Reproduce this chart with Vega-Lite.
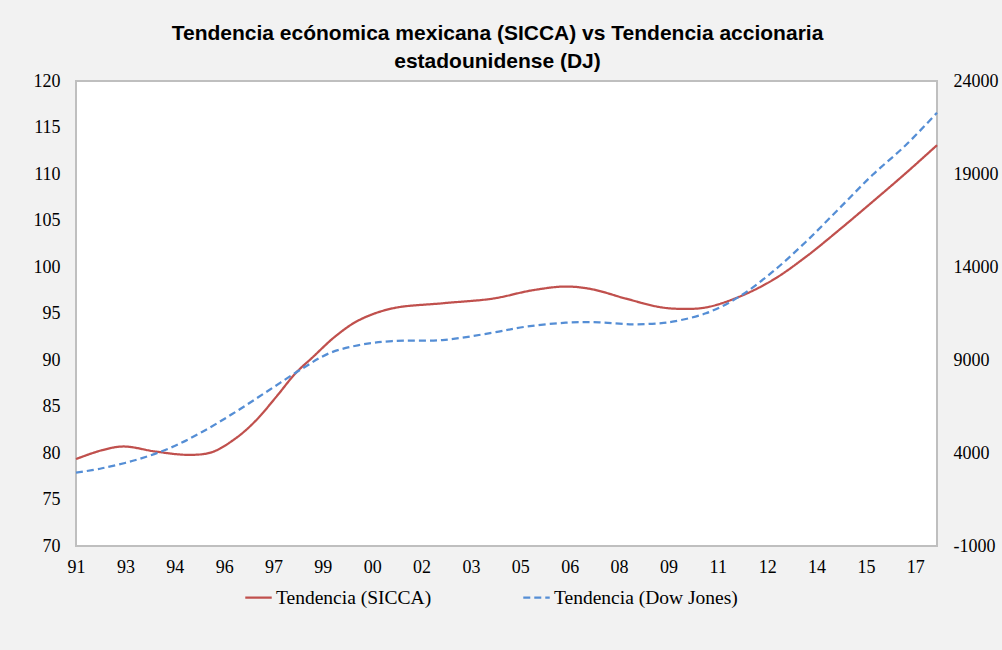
{
  "$schema": "https://vega.github.io/schema/vega-lite/v6.json",
  "autosize": {"type": "none"},
  "width": 861,
  "height": 465,
  "padding": {"left": 76, "top": 81, "right": 65, "bottom": 104},
  "background": "#F2F2F2",
  "config": {
    "view": {"fill": "#FFFFFF", "stroke": "#BFBFBF", "strokeWidth": 2},
    "axis": {"labelFont": "Liberation Serif", "labelFontSize": 18, "labelColor": "#000000", "grid": false, "ticks": false, "domain": false, "title": null}
  },
  "title": {
    "text": ["Tendencia ecónomica mexicana (SICCA) vs Tendencia accionaria", "estadounidense (DJ)"],
    "font": "Liberation Sans",
    "fontSize": 21,
    "fontWeight": "bold",
    "color": "#000000",
    "lineHeight": 28,
    "anchor": "middle",
    "dx": -9,
    "offset": 0
  },
  "datasets": {
    "sicca": [
      {"fecha": "1991-10-01", "serie": "Tendencia (SICCA)", "valor": 79.35},
      {"fecha": "1992-07-15", "serie": "Tendencia (SICCA)", "valor": 80.3},
      {"fecha": "1993-03-15", "serie": "Tendencia (SICCA)", "valor": 80.7},
      {"fecha": "1994-03-05", "serie": "Tendencia (SICCA)", "valor": 80.15},
      {"fecha": "1995-03-10", "serie": "Tendencia (SICCA)", "valor": 79.8},
      {"fecha": "1995-11-20", "serie": "Tendencia (SICCA)", "valor": 80.1},
      {"fecha": "1996-08-10", "serie": "Tendencia (SICCA)", "valor": 81.6},
      {"fecha": "1997-03-20", "serie": "Tendencia (SICCA)", "valor": 83.5},
      {"fecha": "1997-11-01", "serie": "Tendencia (SICCA)", "valor": 86.05},
      {"fecha": "1998-06-05", "serie": "Tendencia (SICCA)", "valor": 88.6},
      {"fecha": "1998-12-10", "serie": "Tendencia (SICCA)", "valor": 90.3},
      {"fecha": "1999-08-25", "serie": "Tendencia (SICCA)", "valor": 92.6},
      {"fecha": "2000-05-10", "serie": "Tendencia (SICCA)", "valor": 94.3},
      {"fecha": "2001-05-12", "serie": "Tendencia (SICCA)", "valor": 95.55},
      {"fecha": "2002-11-20", "serie": "Tendencia (SICCA)", "valor": 96.1},
      {"fecha": "2004-05-28", "serie": "Tendencia (SICCA)", "valor": 96.6},
      {"fecha": "2005-08-15", "serie": "Tendencia (SICCA)", "valor": 97.5},
      {"fecha": "2006-08-18", "serie": "Tendencia (SICCA)", "valor": 97.9},
      {"fecha": "2007-06-10", "serie": "Tendencia (SICCA)", "valor": 97.6},
      {"fecha": "2008-06-15", "serie": "Tendencia (SICCA)", "valor": 96.6},
      {"fecha": "2009-06-20", "serie": "Tendencia (SICCA)", "valor": 95.7},
      {"fecha": "2010-02-01", "serie": "Tendencia (SICCA)", "valor": 95.5},
      {"fecha": "2010-11-20", "serie": "Tendencia (SICCA)", "valor": 95.65},
      {"fecha": "2011-11-25", "serie": "Tendencia (SICCA)", "valor": 96.8},
      {"fecha": "2012-12-01", "serie": "Tendencia (SICCA)", "valor": 98.6},
      {"fecha": "2013-12-05", "serie": "Tendencia (SICCA)", "valor": 101.1},
      {"fecha": "2014-12-10", "serie": "Tendencia (SICCA)", "valor": 104.0},
      {"fecha": "2015-12-12", "serie": "Tendencia (SICCA)", "valor": 107.0},
      {"fecha": "2016-12-18", "serie": "Tendencia (SICCA)", "valor": 110.1},
      {"fecha": "2017-11-28", "serie": "Tendencia (SICCA)", "valor": 113.1}
    ],
    "dj": [
      {"fecha": "1991-10-01", "serie": "Tendencia (Dow Jones)", "valor": 2940},
      {"fecha": "1992-07-15", "serie": "Tendencia (Dow Jones)", "valor": 3180},
      {"fecha": "1993-07-25", "serie": "Tendencia (Dow Jones)", "valor": 3623},
      {"fecha": "1994-08-01", "serie": "Tendencia (Dow Jones)", "valor": 4252},
      {"fecha": "1995-08-05", "serie": "Tendencia (Dow Jones)", "valor": 5145},
      {"fecha": "1996-08-10", "serie": "Tendencia (Dow Jones)", "valor": 6220},
      {"fecha": "1997-08-15", "serie": "Tendencia (Dow Jones)", "valor": 7387},
      {"fecha": "1998-08-20", "serie": "Tendencia (Dow Jones)", "valor": 8553},
      {"fecha": "1999-06-10", "serie": "Tendencia (Dow Jones)", "valor": 9360},
      {"fecha": "2000-05-10", "serie": "Tendencia (Dow Jones)", "valor": 9806},
      {"fecha": "2001-05-12", "serie": "Tendencia (Dow Jones)", "valor": 10021},
      {"fecha": "2002-11-20", "serie": "Tendencia (Dow Jones)", "valor": 10075},
      {"fecha": "2004-05-28", "serie": "Tendencia (Dow Jones)", "valor": 10467},
      {"fecha": "2005-06-01", "serie": "Tendencia (Dow Jones)", "valor": 10790},
      {"fecha": "2006-08-18", "serie": "Tendencia (Dow Jones)", "valor": 11005},
      {"fecha": "2007-08-25", "serie": "Tendencia (Dow Jones)", "valor": 11026},
      {"fecha": "2008-08-28", "serie": "Tendencia (Dow Jones)", "valor": 10918},
      {"fecha": "2009-06-20", "serie": "Tendencia (Dow Jones)", "valor": 10972},
      {"fecha": "2009-11-15", "serie": "Tendencia (Dow Jones)", "valor": 11060},
      {"fecha": "2010-11-20", "serie": "Tendencia (Dow Jones)", "valor": 11510},
      {"fecha": "2011-11-25", "serie": "Tendencia (Dow Jones)", "valor": 12403},
      {"fecha": "2012-12-01", "serie": "Tendencia (Dow Jones)", "valor": 13747},
      {"fecha": "2013-12-05", "serie": "Tendencia (Dow Jones)", "valor": 15360},
      {"fecha": "2014-12-10", "serie": "Tendencia (Dow Jones)", "valor": 17153},
      {"fecha": "2015-12-12", "serie": "Tendencia (Dow Jones)", "valor": 18945},
      {"fecha": "2016-12-18", "serie": "Tendencia (Dow Jones)", "valor": 20557},
      {"fecha": "2017-11-28", "serie": "Tendencia (Dow Jones)", "valor": 22294}
    ]
  },
  "encoding": {
    "x": {
      "field": "fecha",
      "type": "temporal",
      "scale": {"type": "utc", "domain": [{"year": 1991, "month": 10, "date": 1, "utc": true}, {"year": 2017, "month": 11, "date": 28, "utc": true}]},
      "axis": {
        "format": "%y",
        "labelPadding": 12,
        "labelFlush": false,
        "labelOverlap": false,
        "values": [
          {"year": 1991, "month": 10, "date": 1, "utc": true},
          {"year": 1993, "month": 4, "date": 1, "utc": true},
          {"year": 1994, "month": 10, "date": 1, "utc": true},
          {"year": 1996, "month": 4, "date": 1, "utc": true},
          {"year": 1997, "month": 10, "date": 1, "utc": true},
          {"year": 1999, "month": 4, "date": 1, "utc": true},
          {"year": 2000, "month": 10, "date": 1, "utc": true},
          {"year": 2002, "month": 4, "date": 1, "utc": true},
          {"year": 2003, "month": 10, "date": 1, "utc": true},
          {"year": 2005, "month": 4, "date": 1, "utc": true},
          {"year": 2006, "month": 10, "date": 1, "utc": true},
          {"year": 2008, "month": 4, "date": 1, "utc": true},
          {"year": 2009, "month": 10, "date": 1, "utc": true},
          {"year": 2011, "month": 4, "date": 1, "utc": true},
          {"year": 2012, "month": 10, "date": 1, "utc": true},
          {"year": 2014, "month": 4, "date": 1, "utc": true},
          {"year": 2015, "month": 10, "date": 1, "utc": true},
          {"year": 2017, "month": 4, "date": 1, "utc": true}
        ]
      }
    },
    "color": {
      "field": "serie",
      "type": "nominal",
      "scale": {"domain": ["Tendencia (SICCA)", "Tendencia (Dow Jones)"], "range": ["#C0504D", "#558ED5"]},
      "legend": {
        "title": null,
        "orient": "none",
        "direction": "horizontal",
        "legendX": 168,
        "legendY": 502,
        "symbolType": "stroke",
        "symbolSize": 700,
        "symbolStrokeWidth": 2.25,
        "labelFont": "Liberation Serif",
        "labelFontSize": 19.5,
        "labelColor": "#000000",
        "labelOffset": 3,
        "labelLimit": 400,
        "columnPadding": 86
      }
    },
    "strokeDash": {
      "field": "serie",
      "type": "nominal",
      "scale": {"domain": ["Tendencia (SICCA)", "Tendencia (Dow Jones)"], "range": [[1, 0], [7, 4]]},
      "legend": {
        "title": null,
        "orient": "none",
        "direction": "horizontal",
        "legendX": 168,
        "legendY": 502,
        "symbolType": "stroke",
        "symbolSize": 700,
        "symbolStrokeWidth": 2.25,
        "labelFont": "Liberation Serif",
        "labelFontSize": 19.5,
        "labelColor": "#000000",
        "labelOffset": 3,
        "labelLimit": 400,
        "columnPadding": 86
      }
    }
  },
  "layer": [
    {
      "data": {"name": "sicca"},
      "mark": {"type": "line", "interpolate": "catmull-rom", "strokeWidth": 2.25},
      "encoding": {
        "y": {
          "field": "valor",
          "type": "quantitative",
          "scale": {"domain": [70, 120], "nice": false, "zero": false},
          "axis": {"orient": "left", "values": [70, 75, 80, 85, 90, 95, 100, 105, 110, 115, 120], "labelPadding": 16}
        }
      }
    },
    {
      "data": {"name": "dj"},
      "mark": {"type": "line", "interpolate": "catmull-rom", "strokeWidth": 2.25},
      "encoding": {
        "y": {
          "field": "valor",
          "type": "quantitative",
          "scale": {"domain": [-1000, 24000], "nice": false, "zero": false},
          "axis": {"orient": "right", "values": [-1000, 4000, 9000, 14000, 19000, 24000], "labelExpr": "toString(datum.value)", "labelPadding": 16}
        }
      }
    }
  ],
  "resolve": {"scale": {"y": "independent"}, "axis": {"y": "independent"}}
}
